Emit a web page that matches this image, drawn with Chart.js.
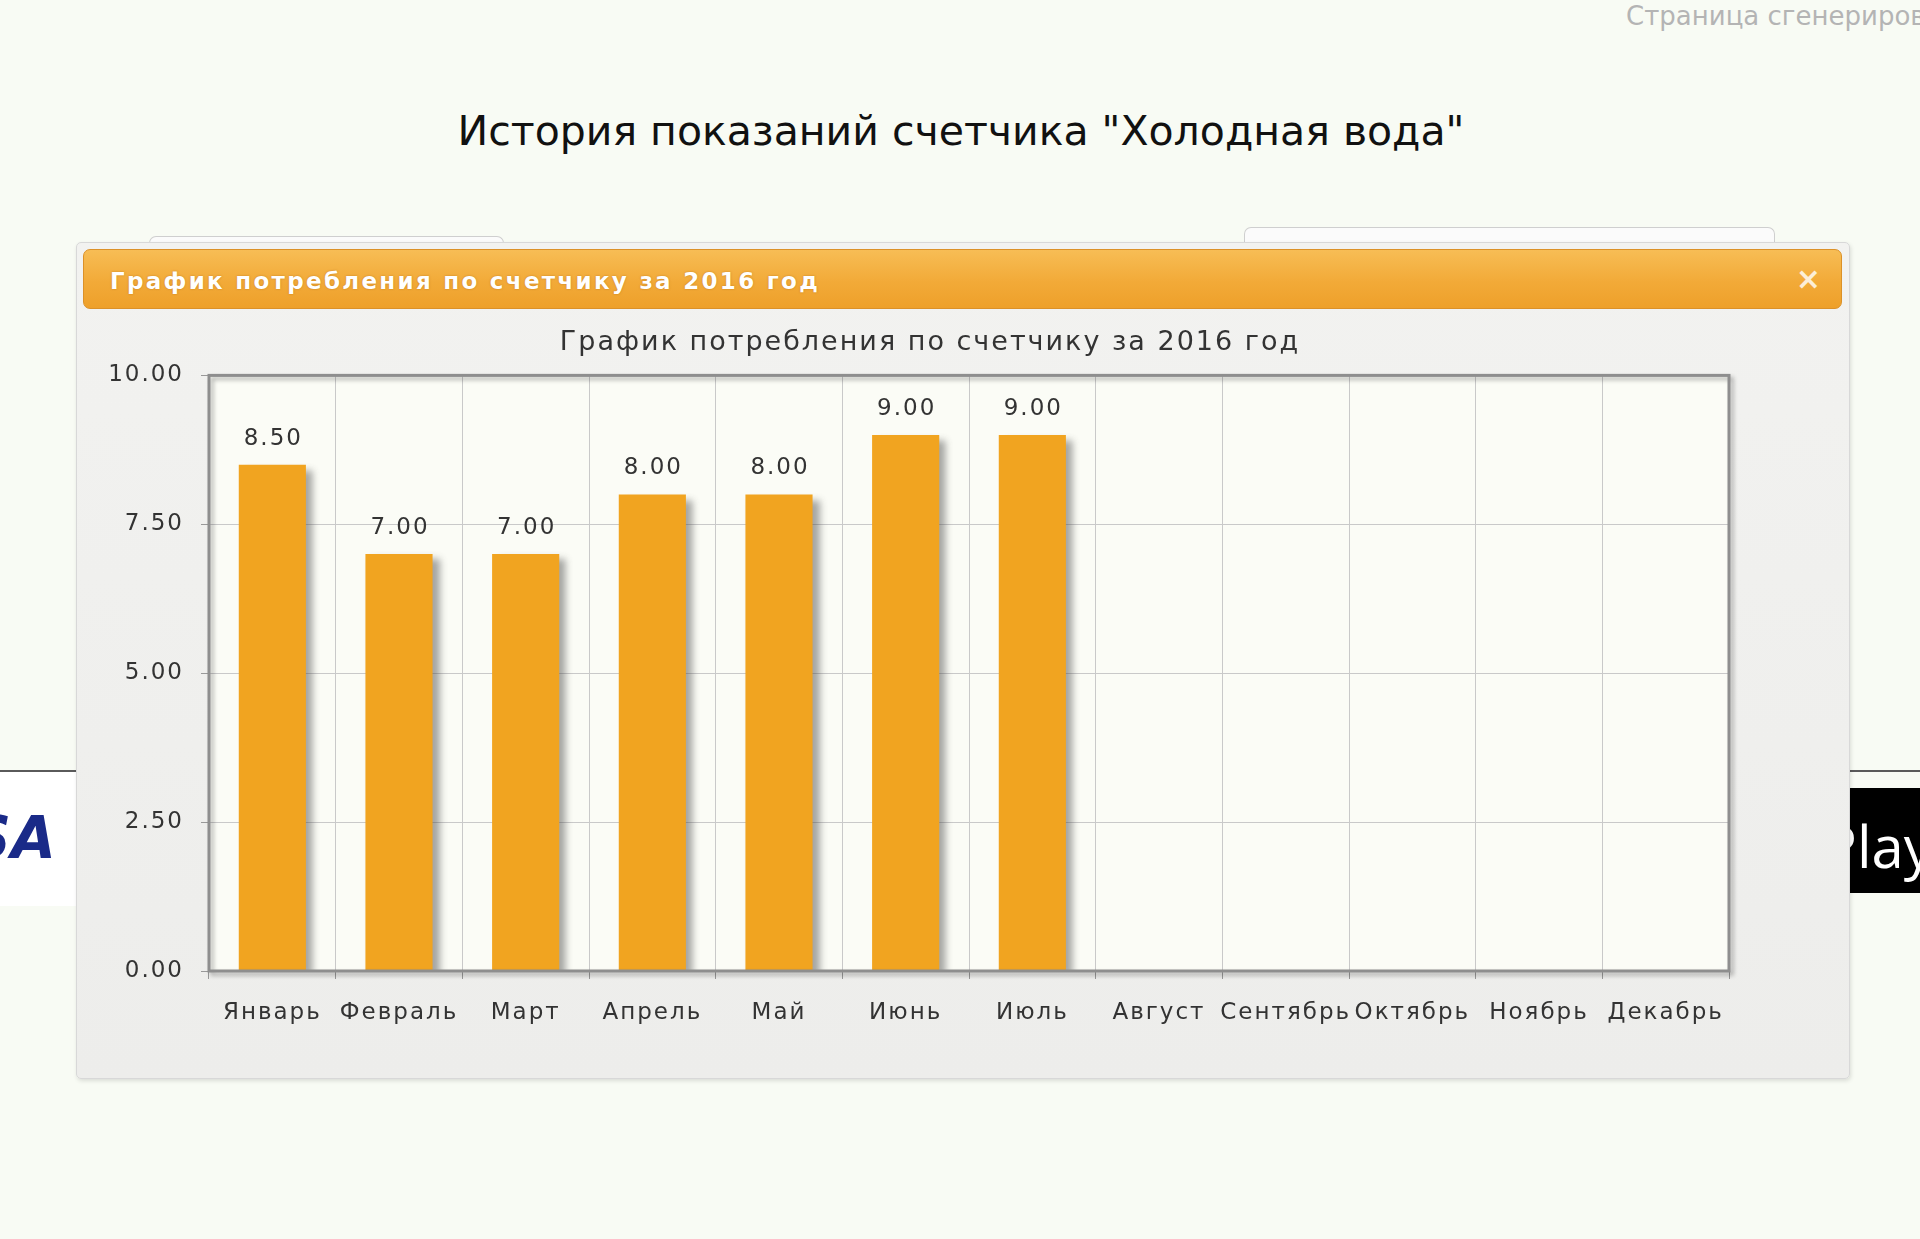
<!DOCTYPE html>
<html lang="ru">
<head>
<meta charset="utf-8">
<title>История показаний счетчика</title>
<script src="https://cdn.jsdelivr.net/npm/chart.js@4.4.1/dist/chart.umd.min.js"></script>
<style>
  body { margin: 0; width: 1920px; height: 1239px; overflow: hidden; background: #f8fbf4; font-family: "DejaVu Sans", sans-serif; position: relative; }
  #gerado { position: absolute; left: 1626px; top: 1px; font-size: 26px; color: #b4b4b4; white-space: nowrap; }
  #titulo { position: absolute; left: 0; top: 104px; width: 1922px; text-align: center; font-size: 41px; line-height: 54px; color: #111; }
  .linha { position: absolute; left: 0; top: 770px; width: 1920px; height: 2px; background: #5a5a5a; }
  #visa { position: absolute; left: 0; top: 772px; width: 200px; height: 134px; background: #fff; }
  #visa span { position: absolute; right: 144px; top: 32px; font-size: 58px; font-weight: bold; font-style: italic; color: #1a2a88; }
  #play { position: absolute; left: 1790px; top: 788px; width: 130px; height: 105px; background: #000; }
  #play span { position: absolute; left: 32px; top: 18px; font-size: 58px; color: #fff; font-family: "Open Sans", sans-serif; }
  .aba { position: absolute; background: #fbfbfb; border: 1px solid #cfcfcf; border-bottom: none; border-radius: 7px 7px 0 0; }
  #painel { position: absolute; left: 76px; top: 242px; width: 1772px; height: 835px; background: linear-gradient(#f2f2f0, #ededeb); border: 1px solid #d8d8d8; border-radius: 5px; box-shadow: 1px 2px 4px rgba(0,0,0,0.12); }
  #cabecalho { position: absolute; left: 6px; top: 6px; width: 1757px; height: 58px; border: 1px solid #dc9128; border-radius: 7px; background: linear-gradient(#f7bd55, #f2aa38 55%, #eea02a); }
  #cabecalho .txt { position: absolute; left: 26px; top: 18px; font-size: 23px; font-weight: bold; color: #fff; letter-spacing: 2.3px; text-shadow: 0 0 2px rgba(150,80,0,0.5); white-space: nowrap; }
  #cabecalho .fechar { position: absolute; right: 20px; top: 11px; font-size: 30px; font-weight: bold; color: #fff; opacity: 0.8; }
  #grafico { position: absolute; left: 0; top: 67px; }
</style>
</head>
<body>
<div id="gerado">Страница сгенерирована</div>
<div id="titulo">История показаний счетчика "Холодная вода"</div>
<div class="linha"></div>
<div id="visa"><span>VISA</span></div>
<div id="play"><span>Play</span></div>
<div class="aba" style="left:149px; top:236px; width:353px; height:20px;"></div>
<div class="aba" style="left:1244px; top:227px; width:529px; height:30px;"></div>
<div id="painel">
  <div id="cabecalho">
    <div class="txt">График потребления по счетчику за 2016 год</div>
    <div class="fechar">×</div>
  </div>
  <canvas id="grafico" width="1774" height="770"></canvas>
</div>
<script>
// dados
const meses = ['Январь', 'Февраль', 'Март', 'Апрель', 'Май', 'Июнь', 'Июль', 'Август', 'Сентябрь', 'Октябрь', 'Ноябрь', 'Декабрь'];
const consumo = [8.5, 7, 7, 8, 8, 9, 9, null, null, null, null, null];
const ticksY = [0, 2.5, 5, 7.5, 10];
const tituloGrafico = 'График потребления по счетчику за 2016 год';

const fonte = '"DejaVu Sans", sans-serif';

// fundo da area do grafico + espacamento das letras
const fundoPlot = {
    id: 'fundoPlot',
    afterLayout(chart) {
        // titulo um pouco deslocado para a direita, como no original
        chart.titleBlock.left += 34;
    },
    beforeDraw(chart) {
        const { ctx, chartArea: a } = chart;
        ctx.save();
        ctx.fillStyle = '#fbfcf6';
        ctx.fillRect(a.left, a.top, a.right - a.left, a.bottom - a.top);
        ctx.restore();
        ctx.letterSpacing = '2px';
    },
    afterDraw(chart) {
        chart.ctx.letterSpacing = '0px';
    }
};

// sombra das barras, moldura e valores
const sombraBarras = {
    id: 'sombraBarras',
    beforeDatasetsDraw(chart) {
        const ctx = chart.ctx;
        ctx.save();
        ctx.shadowColor = 'rgba(60,60,60,0.45)';
        ctx.shadowOffsetX = 7;
        ctx.shadowOffsetY = 5;
        ctx.shadowBlur = 7;
    },
    afterDatasetsDraw(chart) {
        const { ctx, chartArea: a } = chart;
        ctx.restore();

        ctx.save();
        ctx.shadowColor = 'rgba(0,0,0,0.3)';
        ctx.shadowOffsetX = 3;
        ctx.shadowOffsetY = 3;
        ctx.shadowBlur = 4;
        ctx.strokeStyle = '#8e8e8e';
        ctx.lineWidth = 3;
        ctx.strokeRect(a.left, a.top, a.right - a.left, a.bottom - a.top);
        ctx.restore();

        const meta = chart.getDatasetMeta(0);
        ctx.save();
        ctx.font = '23px ' + fonte;
        ctx.fillStyle = '#333';
        ctx.textAlign = 'center';
        ctx.textBaseline = 'middle';
        meta.data.forEach((barra, i) => {
            const v = consumo[i];
            if (v === null) return;
            ctx.fillText(v.toFixed(2), barra.x + 1, barra.y - 26);
        });
        ctx.restore();
    }
};

const grafico = new Chart(document.querySelector('#grafico'), {
    type: 'bar',
    data: {
        labels: meses,
        datasets: [{
            data: consumo,
            backgroundColor: '#f1a420',
            borderWidth: 0,
            categoryPercentage: 1,
            barPercentage: 0.53
        }]
    },
    options: {
        responsive: false,
        animation: false,
        layout: { padding: { left: 20, right: 122, top: 0, bottom: 47 } },
        plugins: {
            legend: { display: false },
            tooltip: { enabled: false },
            title: {
                display: true,
                text: tituloGrafico,
                color: '#333',
                font: { family: fonte, size: 27, weight: 'normal' },
                padding: { top: 17, bottom: 16 }
            }
        },
        scales: {
            x: {
                grid: { color: '#c9c9c9', offset: true, tickLength: 8, tickColor: '#999' },
                border: { display: false },
                ticks: { color: '#333', font: { family: fonte, size: 23 }, padding: 20, maxRotation: 0, autoSkip: false },
                afterFit(scale) { scale.height = 62; }
            },
            y: {
                min: 0,
                max: 10,
                grid: { color: '#c9c9c9', tickLength: 8, tickColor: '#999' },
                border: { display: false },
                ticks: { color: '#333', font: { family: fonte, size: 23 }, padding: 17, callback: v => v.toFixed(2) },
                afterBuildTicks(scale) { scale.ticks = ticksY.map(v => ({ value: v })); },
                afterFit(scale) { scale.width = 112; }
            }
        }
    },
    plugins: [fundoPlot, sombraBarras]
});
</script>
</body>
</html>
